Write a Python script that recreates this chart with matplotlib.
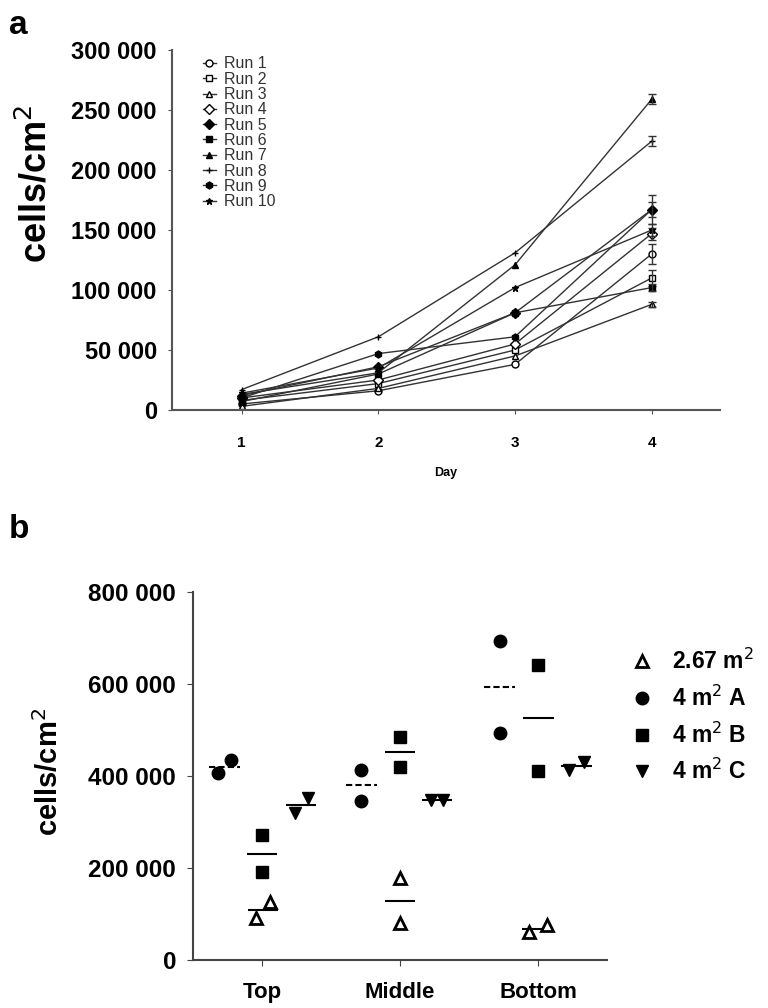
import numpy as np
import matplotlib
matplotlib.use("Agg")
import matplotlib.pyplot as plt
from matplotlib.ticker import FuncFormatter

plt.rcParams['font.family'] = ['Liberation Sans', 'DejaVu Sans']

# ---- panel a data: cell density per run and day
days = [1, 2, 3, 4]
run_names = ["Run 1", "Run 2", "Run 3", "Run 4", "Run 5",
             "Run 6", "Run 7", "Run 8", "Run 9", "Run 10"]
run1 = [5000, 16000, 38000, 130000]
run2 = [8000, 22000, 50000, 110000]
run3 = [3000, 18000, 45000, 88000]
run4 = [10000, 25000, 55000, 147000]
run5 = [12000, 36000, 81000, 167000]
run6 = [7000, 30000, 81000, 102000]
run7 = [13000, 31000, 121000, 259000]
run8 = [17000, 61000, 131000, 224000]
run9 = [10000, 47000, 61000, 167000]
run10 = [14000, 35000, 102000, 150000]
runs = [run1, run2, run3, run4, run5, run6, run7, run8, run9, run10]
# error on day 4 only
err_day4 = [8000, 7000, 2000, 5000, 12000, 3000, 4000, 4000, 6000, 5000]

# ---- panel b data: two measurements per position and reactor
positions = ["Top", "Middle", "Bottom"]
groups = ["2.67 m$^2$", "4 m$^2$ A", "4 m$^2$ B", "4 m$^2$ C"]
small_267 = [[91000, 126000], [178000, 80000], [61000, 76000]]
big_a = [[406000, 435000], [413000, 346000], [693000, 493000]]
big_b = [[272000, 191000], [485000, 420000], [641000, 411000]]
big_c = [[320000, 352000], [348000, 348000], [413000, 430000]]
group_vals = [small_267, big_a, big_b, big_c]

fig = plt.figure(figsize=(7.68, 10.08), dpi=100)

# ---------------- panel a
ax1 = fig.add_axes([0.224, 0.5933, 0.7135, 0.357])
mk = ['o', 's', '^', 'D', 'D', 's', '^', '+', 'h', '*']
filled = [False, False, False, False, True, True, True, True, True, True]
for i, r in enumerate(runs):
    ax1.plot(days, r, color='#333333', lw=1.0, marker=mk[i], ms=5,
             mfc='black' if filled[i] else 'white', mec='black', mew=1.0,
             label=run_names[i])
    ax1.errorbar(days[-1], r[-1], yerr=err_day4[i], fmt='none',
                 ecolor='#333333', capsize=3, elinewidth=1.0)
ax1.set_xlim(0.49, 4.5)
ax1.set_ylim(0, 300000)
ax1.set_xticks(days)
ax1.set_yticks(np.arange(0, 300001, 50000))
fmt = FuncFormatter(lambda v, p: f"{int(v):,}".replace(",", " "))
ax1.yaxis.set_major_formatter(fmt)
for s in ['top', 'right']:
    ax1.spines[s].set_visible(False)
for s in ['left', 'bottom']:
    ax1.spines[s].set_color('#555555')
    ax1.spines[s].set_linewidth(1.5)
ax1.tick_params(axis='y', labelsize=17, length=3, color='#555555', pad=8)
ax1.tick_params(axis='x', labelsize=11, length=3, color='#555555', pad=16)
for t in ax1.get_yticklabels() + ax1.get_xticklabels():
    t.set_fontweight('bold')
ax1.set_ylabel("cells/cm$^2$", fontsize=26, fontweight='bold')
ax1.yaxis.set_label_coords(-0.215, 0.63)
ax1.set_xlabel("Day", fontsize=9, fontweight='bold', labelpad=12)
leg = ax1.legend(loc='upper left', bbox_to_anchor=(0.045, 1.0), frameon=False,
                 fontsize=11.5, handlelength=0.8, handletextpad=0.5,
                 labelspacing=0.02, borderaxespad=0)
for t in leg.get_texts():
    t.set_color('#333333')
fig.text(0.012, 0.975, "a", fontsize=24, fontweight='bold', va='center')

# ---------------- panel b
ax2 = fig.add_axes([0.251, 0.0476, 0.540, 0.365])
grp_marker = ['^', 'o', 's', 'v']
grp_fill = ['white', 'black', 'black', 'black']
grp_offset = [0.0, -0.28, 0.0, 0.28]
grp_jitter = [[[-0.04, 0.06], [0, 0], [-0.07, 0.06]],
              [[-0.04, 0.06], [0, 0], [0, 0]],
              [[0, 0], [0, 0], [0, 0]],
              [[-0.04, 0.05], [-0.06, 0.03], [-0.06, 0.05]]]
grp_ls = ['-', (0, (3, 1.5)), '-', '-']
for g in range(4):
    for p in range(3):
        vals = group_vals[g][p]
        xs = [p + grp_offset[g] + j for j in grp_jitter[g][p]]
        ax2.plot(xs, vals, ls='none', marker=grp_marker[g], ms=9,
                 mfc=grp_fill[g], mec='black', mew=2.0 if g == 0 else 1.0,
                 label=groups[g] if p == 0 else None, zorder=3)
        cx = np.mean(xs)
        ax2.hlines(np.mean(vals), cx - 0.11, cx + 0.11, color='black',
                   lw=1.5, linestyles=grp_ls[g], zorder=2)
ax2.set_xlim(-0.5, 2.5)
ax2.set_ylim(0, 800000)
ax2.set_xticks(range(3))
ax2.set_xticklabels(positions)
ax2.set_yticks(np.arange(0, 800001, 200000))
ax2.yaxis.set_major_formatter(fmt)
for s in ['top', 'right']:
    ax2.spines[s].set_visible(False)
for s in ['left', 'bottom']:
    ax2.spines[s].set_color('#444444')
    ax2.spines[s].set_linewidth(1.5)
ax2.tick_params(axis='y', labelsize=17.5, length=4, color='#444444', pad=8)
ax2.tick_params(axis='x', labelsize=16, length=4, color='#444444', pad=12)
for t in ax2.get_yticklabels() + ax2.get_xticklabels():
    t.set_fontweight('bold')
ax2.set_ylabel("cells/cm$^2$", fontsize=21, fontweight='bold')
ax2.yaxis.set_label_coords(-0.31, 0.511)
h, l = ax2.get_legend_handles_labels()
ax2.legend(h, l, loc='upper left', bbox_to_anchor=(1.04, 0.87), frameon=False,
           prop={'size': 16.5, 'weight': 'bold'}, handlelength=0.8,
           handletextpad=0.9, labelspacing=0.5, borderaxespad=0)
fig.text(0.012, 0.475, "b", fontsize=24, fontweight='bold', va='center')

fig.savefig("out.png", dpi=100)
